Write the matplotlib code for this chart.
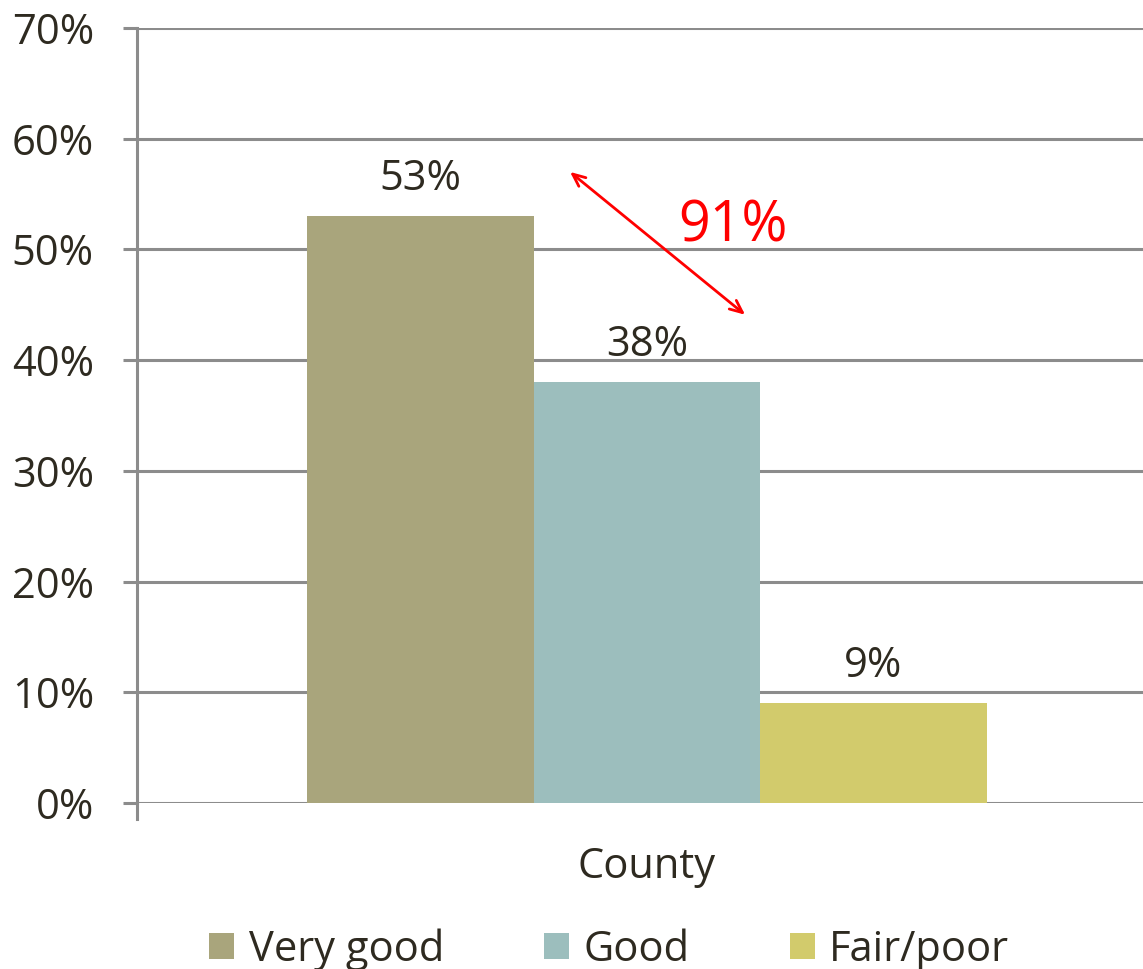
import matplotlib
matplotlib.use("Agg")
import matplotlib.pyplot as plt
from matplotlib.patches import Patch

plt.rcParams['font.family'] = ['Open Sans', 'DejaVu Sans']

category = ["County"]
series = ["Very good", "Good", "Fair/poor"]
values = [53, 38, 9]
colors = ["#A9A57C", "#9CBEBD", "#D2CB6C"]
yticks = [0, 10, 20, 30, 40, 50, 60, 70]
ytick_labels = ["0%", "10%", "20%", "30%", "40%", "50%", "60%", "70%"]
combined_label = "91%"

text_color = "#2E2A20"
grid_color = "#8C8C8C"
fs = 30

fig = plt.figure(figsize=(11.43, 9.69), dpi=100)
ax = fig.add_axes([0.1199, 0.1713, 0.8801, 0.7998])

offsets = [-1, 0, 1]
for off, v, c, name in zip(offsets, values, colors, series):
    ax.bar(off, v, width=1.0, color=c, zorder=3, label=name)
    ax.annotate(f"{v}%", (off, v), xytext=(0, 27), textcoords="offset points",
                ha="center", va="center", fontsize=fs, color=text_color, zorder=4)

ax.set_xlim(-2.252, 2.19)
ax.set_ylim(0, 70)
ax.set_yticks(yticks)
ax.set_yticklabels(ytick_labels)
ax.set_xticks([0])
ax.set_xticklabels(category)

for y in yticks:
    ax.axhline(y, color=grid_color, lw=2.2, zorder=1)

for s in ["top", "right", "bottom"]:
    ax.spines[s].set_visible(False)
ax.spines["left"].set_color(grid_color)
ax.spines["left"].set_linewidth(2.2)

ax.tick_params(axis="y", length=10, width=2.2, color=grid_color, pad=21,
               labelsize=fs, labelcolor=text_color)
ax.tick_params(axis="x", length=0, pad=31, labelsize=fs, labelcolor=text_color)
# boundary tick mark below the axis at left
ax.plot([-2.252, -2.252], [0, -1.4], color=grid_color, lw=2.2, clip_on=False, zorder=2)

# arrow and combined label
ax.annotate("", xy=(-0.34, 57.0), xytext=(0.433, 44.1),
            arrowprops=dict(arrowstyle="<->,head_length=0.9,head_width=0.4",
                            color="#FF0000", lw=2, shrinkA=0, shrinkB=0), zorder=5)
ax.text(0.38, 52.0, combined_label, color="#FF0000", fontsize=40,
        ha="center", va="center", zorder=5)

handles = [Patch(facecolor=c, edgecolor="none") for c in colors]
fig.legend(handles, series, loc="center", bbox_to_anchor=(0.533, 0.02), ncol=3,
           frameon=False, fontsize=fs, labelcolor=text_color,
           handlelength=0.6, handleheight=0.6, handletextpad=0.35,
           columnspacing=2.4)

fig.savefig("out.png", dpi=100)
